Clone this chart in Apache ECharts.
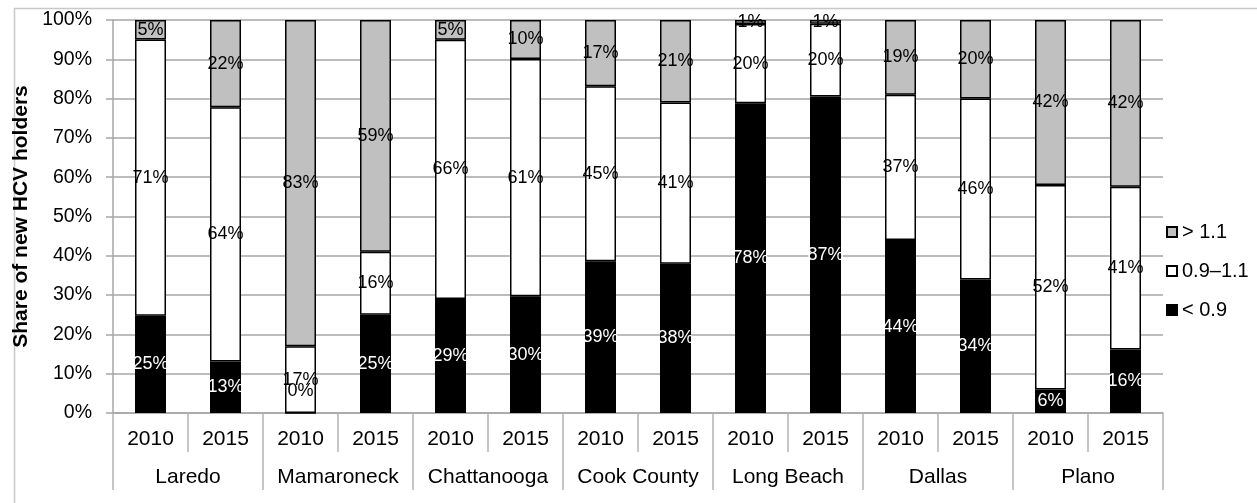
<!DOCTYPE html>
<html>
<head>
<meta charset="utf-8">
<script src="https://cdn.jsdelivr.net/npm/echarts@6/dist/echarts.min.js"></script>
<style>
html,body{margin:0;padding:0;background:#fff;}
#chart{width:1257px;height:503px;}
</style>
</head>
<body>
<div id="chart"></div>
<script>
// ---- data ----
const groups = ['Laredo','Mamaroneck','Chattanooga','Cook County','Long Beach','Dallas','Plano'];
const years = ['2010','2015'];
const yTicks = [0,10,20,30,40,50,60,70,80,90,100];
const seriesNames = ['< 0.9','0.9\u20131.1','> 1.1'];
const below09 = [25,13,0,25,29,30,39,38,78,87,44,34,6,16];
const mid0911 = [71,64,17,16,66,61,45,41,20,20,37,46,52,41];
const above11 = [5,22,83,59,5,10,17,21,1,1,19,20,42,42];

// ---- build ----
const FONT = '"Liberation Sans", Arial, sans-serif';
const cats = [];
groups.forEach(g => years.forEach(y => cats.push(g + '|' + y)));
const raw = [below09, mid0911, above11];
const totals = below09.map((v, i) => below09[i] + mid0911[i] + above11[i]);
const fills = ['#000000', '#ffffff', '#c0c0c0'];
const labelColors = ['#ffffff', '#000000', '#000000'];

const series = raw.map((arr, s) => ({
  name: seriesNames[s],
  type: 'bar',
  stack: 'total',
  xAxisIndex: 0,
  barWidth: 31,
  itemStyle: { color: fills[s], borderColor: '#000', borderWidth: 1.5 },
  label: {
    show: true,
    position: 'inside',
    color: labelColors[s],
    fontFamily: FONT,
    fontSize: 18,
    formatter: p => p.data.raw + '%'
  },
  data: arr.map((v, i) => {
    const item = { value: v / totals[i] * 100, raw: v };
    if (v === 0) item.label = { position: 'insideBottom', distance: 14, color: '#000' };
    return item;
  })
}));

const chart = echarts.init(document.getElementById('chart'), null, { renderer: 'canvas' });
chart.setOption({
  animation: false,
  backgroundColor: '#fff',
  grid: { left: 113, right: 94, top: 20, bottom: 90, containLabel: false },
  legend: {
    orient: 'vertical',
    left: 1161,
    top: 217,
    icon: 'rect',
    itemWidth: 10,
    itemHeight: 10,
    itemGap: 19,
    data: [seriesNames[2], seriesNames[1], seriesNames[0]],
    textStyle: { fontFamily: FONT, fontSize: 20, color: '#000', lineHeight: 20 }
  },
  xAxis: [
    {
      type: 'category',
      data: cats,
      position: 'bottom',
      axisLine: { show: true, lineStyle: { color: '#a6a6a6', width: 1.5 } },
      axisTick: { show: true, interval: 0, length: 39, lineStyle: { color: '#b4b4b4', width: 1.5 } },
      axisLabel: {
        interval: 0, margin: 16, fontFamily: FONT, fontSize: 21, color: '#000',
        formatter: v => v.split('|')[1]
      },
      splitLine: { show: false }
    },
    {
      type: 'category',
      data: groups,
      position: 'bottom',
      axisLine: { show: false },
      axisTick: { show: true, interval: 0, length: 77, lineStyle: { color: '#b4b4b4', width: 1.5 } },
      axisLabel: { interval: 0, margin: 54, fontFamily: FONT, fontSize: 21, color: '#000' },
      splitLine: { show: false }
    }
  ],
  yAxis: {
    type: 'value',
    min: yTicks[0],
    max: yTicks[yTicks.length - 1],
    interval: yTicks[1] - yTicks[0],
    name: 'Share of new HCV holders',
    nameLocation: 'middle',
    nameGap: 76,
    nameTextStyle: { fontFamily: FONT, fontSize: 21, fontWeight: 'bold', color: '#000' },
    axisLine: { show: true, lineStyle: { color: '#a6a6a6', width: 1.5 } },
    axisTick: { show: true, length: 7, lineStyle: { color: '#a6a6a6', width: 1.5 } },
    axisLabel: { margin: 21, fontFamily: FONT, fontSize: 19.5, color: '#000', formatter: '{value}%' },
    splitLine: { show: true, lineStyle: { color: '#a6a6a6', width: 1.5 } }
  },
  graphic: [{
    type: 'rect',
    left: 12, top: 6,
    shape: { x: 0, y: 0, width: 1300, height: 600 },
    style: { fill: 'none', stroke: '#c8c8c8', lineWidth: 1.5 },
    silent: true, z: -10
  }],
  series: series
});
</script>
</body>
</html>
